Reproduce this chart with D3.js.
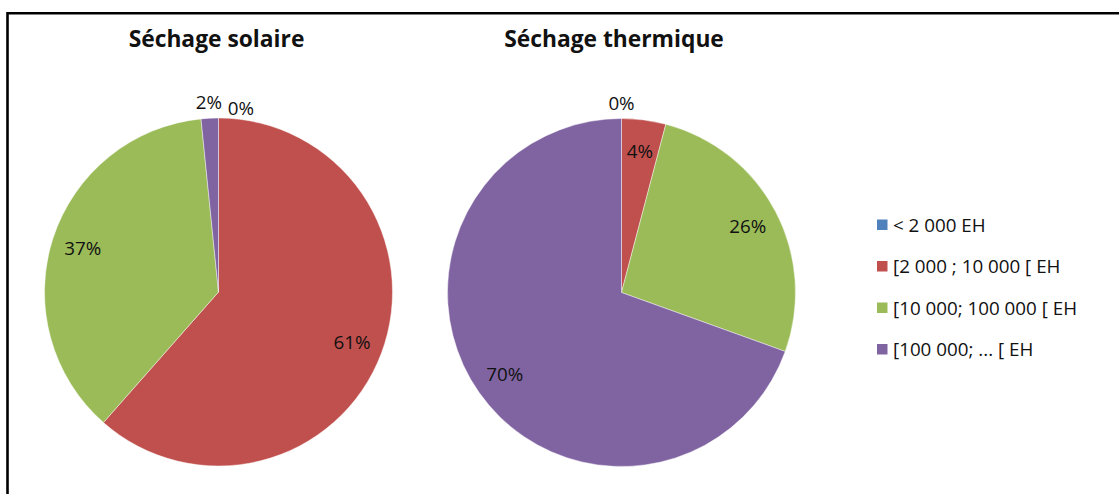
<!DOCTYPE html>
<html><head><meta charset="utf-8">
<script src="https://cdn.jsdelivr.net/npm/d3@7"></script>
<style>
html,body{margin:0;padding:0;background:#fff;}
svg{display:block;}
text{font-family:"Open Sans","DejaVu Sans",sans-serif;fill:#111;}
</style></head>
<body>
<svg id="chart" width="1119" height="494"></svg>
<script>
const categories = ["< 2 000 EH", "[2 000 ; 10 000 [ EH", "[10 000; 100 000 [ EH", "[100 000; ... [ EH"];
const colors = ["#4F81BD", "#C0504D", "#9BBB59", "#8064A2"];
const titles = ["Séchage solaire", "Séchage thermique"];
const solaireValues = [0, 61.5, 36.9, 1.6];
const thermiqueValues = [0, 4.1, 26.4, 69.5];
const solaireLabels = ["0%", "61%", "37%", "2%"];
const thermiqueLabels = ["0%", "4%", "26%", "70%"];

const svg = d3.select("#chart");

// frame
svg.append("path")
  .attr("d", "M7.5,494 L7.5,13.2 L1119,13.2")
  .attr("fill", "none").attr("stroke", "#000").attr("stroke-width", 2.6);

const pies = [
  {title: titles[0], values: solaireValues, labels: solaireLabels, cx: 218.5, cy: 292, tx: 216.5},
  {title: titles[1], values: thermiqueValues, labels: thermiqueLabels, cx: 621.5, cy: 292.5, tx: 614}
];
const R = 174;
const pie = d3.pie().sort(null).value(d => d);
const arc = d3.arc().innerRadius(0).outerRadius(R);
const labelArc = d3.arc().innerRadius(R * 0.82).outerRadius(R * 0.82);
const outArc = d3.arc().innerRadius(R * 1.09).outerRadius(R * 1.09);

pies.forEach(p => {
  svg.append("text")
    .attr("x", p.tx).attr("y", 47)
    .attr("text-anchor", "middle")
    .style("font-weight", "bold").style("font-size", "22.8px")
    .text(p.title);

  const g = svg.append("g").attr("transform", `translate(${p.cx},${p.cy})`);
  const arcs = pie(p.values);
  g.selectAll("path.slice").data(arcs).enter().append("path")
    .attr("class", "slice")
    .attr("d", arc)
    .attr("fill", (d, i) => colors[i])
    .attr("stroke", "rgba(255,255,255,0.55)")
    .attr("stroke-width", 0.8);

  const lbls = arcs.map((d, i) => {
    const total = d3.sum(p.values);
    const outside = d.value / total < 0.03;
    const c = (outside ? outArc : labelArc).centroid(d);
    return {x: c[0], y: c[1], text: p.labels[i], outside: outside, i: i};
  });
  const outs = lbls.filter(l => l.outside).sort((a, b) => a.x - b.x);
  const w = 28, gap = 4;
  for (let k = 1; k < outs.length; k++) {
    const prev = outs[k - 1], cur = outs[k];
    if (cur.x - prev.x < w + gap) { cur.x = prev.x + w + gap; cur.y += 6; }
  }
  g.selectAll("text.lbl").data(lbls).enter().append("text")
    .attr("class", "lbl")
    .attr("x", d => d.x).attr("y", d => d.y)
    .attr("dy", "0.36em")
    .attr("text-anchor", "middle")
    .style("font-size", "18.8px")
    .text(d => d.text);
});

// legend
const legend = svg.append("g").attr("transform", "translate(877,225)");
const rowH = 41.5;
categories.forEach((c, i) => {
  const row = legend.append("g").attr("transform", `translate(0,${i * rowH})`);
  row.append("rect").attr("x", 0).attr("y", -5.5).attr("width", 10.5).attr("height", 10.5).attr("fill", colors[i]);
  row.append("text").attr("x", 16).attr("y", 0).attr("dy", "0.36em")
    .style("font-size", "18.8px").text(c);
});
</script>
</body></html>
